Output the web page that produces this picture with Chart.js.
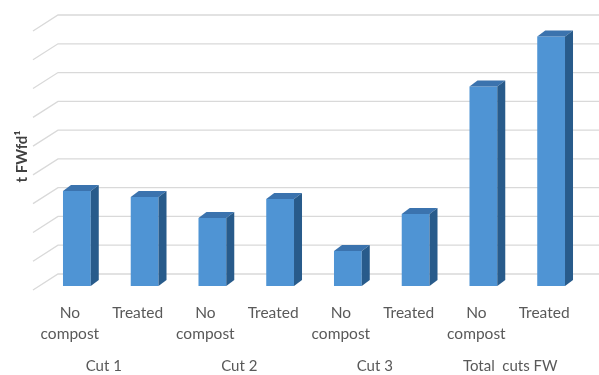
<!DOCTYPE html>
<html>
<head>
<meta charset="utf-8">
<script src="https://cdn.jsdelivr.net/npm/chart.js@4/dist/chart.umd.min.js"></script>
<style>
  html, body { margin: 0; padding: 0; background: #ffffff; }
  #wrap { width: 599px; height: 375px; }
</style>
</head>
<body>
<div id="wrap"><canvas id="yieldChart"></canvas></div>
<script>
const treatmentLabels = [
  ["No", "compost"], ["Treated"],
  ["No", "compost"], ["Treated"],
  ["No", "compost"], ["Treated"],
  ["No", "compost"], ["Treated"]
];
const cutLabels = ["Cut 1", "Cut 2", "Cut 3", "Total  cuts FW"];
const yieldValues = [3.3, 3.09, 2.36, 3.02, 1.22, 2.5, 6.93, 8.67];
const gridValues = [0, 1, 2, 3, 4, 5, 6, 7, 8, 9];

const FRONT_COLOR = "#4f94d4";
const TOP_COLOR = "#3b73ae";
const SIDE_COLOR = "#285b8b";
const GRID_COLOR = "#d9d9d9";
const TEXT_COLOR = "#595959";

// depth of a bar box, and how far the back wall sits behind the bar fronts
const BAR_DX = 8;
const BAR_DY = 6;
const WALL_DY = 12;
const FLOOR_DX = 25;
const FLOOR_DY = 16;

const backWall = {
  id: "backWall",
  beforeDatasetsDraw(chart) {
    const { ctx, chartArea, scales } = chart;
    const wallLeft = chartArea.left + 15;
    ctx.save();
    ctx.strokeStyle = GRID_COLOR;
    ctx.lineWidth = 1.3;
    gridValues.forEach(v => {
      const y = scales.y.getPixelForValue(v) - WALL_DY;
      ctx.beginPath();
      ctx.moveTo(wallLeft - FLOOR_DX, y + FLOOR_DY);
      ctx.lineTo(wallLeft, y);
      ctx.lineTo(chart.width, y);
      ctx.stroke();
    });
    ctx.restore();
  }
};

const barBoxes = {
  id: "barBoxes",
  afterDatasetsDraw(chart) {
    const { ctx } = chart;
    const meta = chart.getDatasetMeta(0);
    ctx.save();
    meta.data.forEach(bar => {
      const { x, y, base, width } = bar.getProps(["x", "y", "base", "width"], true);
      const left = x - width / 2;
      const right = x + width / 2;

      ctx.fillStyle = TOP_COLOR;
      ctx.beginPath();
      ctx.moveTo(left, y);
      ctx.lineTo(left + BAR_DX, y - BAR_DY);
      ctx.lineTo(right + BAR_DX, y - BAR_DY);
      ctx.lineTo(right, y);
      ctx.closePath();
      ctx.fill();

      ctx.fillStyle = SIDE_COLOR;
      ctx.beginPath();
      ctx.moveTo(right, y);
      ctx.lineTo(right + BAR_DX, y - BAR_DY);
      ctx.lineTo(right + BAR_DX, base - BAR_DY);
      ctx.lineTo(right, base);
      ctx.closePath();
      ctx.fill();
    });
    ctx.restore();
  }
};

new Chart(document.getElementById("yieldChart"), {
  type: "bar",
  data: {
    labels: treatmentLabels,
    datasets: [
      {
        data: yieldValues,
        backgroundColor: FRONT_COLOR,
        borderWidth: 0,
        barPercentage: 0.41,
        categoryPercentage: 1,
        xAxisID: "x",
        yAxisID: "y"
      }
    ]
  },
  options: {
    responsive: true,
    maintainAspectRatio: false,
    animation: false,
    layout: {
      padding: { top: 27, right: 14, bottom: 0, left: 0 }
    },
    plugins: {
      legend: { display: false },
      tooltip: { enabled: false }
    },
    scales: {
      x: {
        type: "category",
        position: "bottom",
        weight: 0,
        grid: { display: false, drawTicks: false },
        border: { display: false },
        ticks: {
          color: TEXT_COLOR,
          font: { family: "Lato", size: 15.5, lineHeight: 1.36 },
          padding: 16,
          labelOffset: -7,
          maxRotation: 0,
          autoSkip: false
        },
        afterFit(scale) {
          scale.height = 58;
        }
      },
      x2: {
        type: "category",
        position: "bottom",
        weight: 1,
        labels: cutLabels,
        offset: true,
        grid: { display: false, drawTicks: false },
        border: { display: false },
        ticks: {
          color: TEXT_COLOR,
          font: { family: "Lato", size: 15, lineHeight: 1.2 },
          padding: 13,
          labelOffset: -7,
          maxRotation: 0,
          autoSkip: false
        },
        afterFit(scale) {
          scale.height = 31;
        }
      },
      y: {
        min: 0,
        max: 9,
        grid: { display: false },
        border: { display: false },
        ticks: { display: false },
        title: {
          display: true,
          text: "t FWfd¹",
          color: "#404040",
          font: { family: "Lato", size: 15, weight: "bold" },
          padding: { top: 13, bottom: 0 }
        },
        afterFit(scale) {
          scale.width = 43;
        }
      }
    }
  },
  plugins: [backWall, barBoxes]
});
</script>
</body>
</html>
